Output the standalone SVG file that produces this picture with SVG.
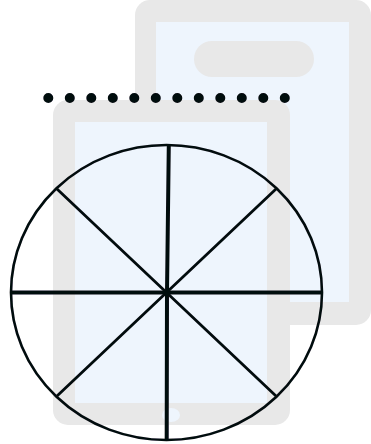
<svg xmlns="http://www.w3.org/2000/svg" width="371" height="444" viewBox="0 0 371 444">
  <style>
    .body{fill:#e8e8e8}
    .screen{fill:#eef5fd}
    .ln{stroke:#06090f;fill:none}
  </style>
  <defs>
    <filter id="soft" x="-5%" y="-5%" width="110%" height="110%"><feGaussianBlur stdDeviation="0.5"/></filter>
  </defs>
  <rect width="371" height="444" fill="#fff"/>
  <g filter="url(#soft)">
    <g id="phone-back">
      <rect class="body" x="135" y="0" width="236" height="325" rx="15"/>
      <rect class="screen" x="156" y="22" width="193" height="280"/>
      <rect class="body" x="194" y="41" width="120" height="36" rx="18"/>
    </g>
    <g id="phone-front">
      <rect class="body" x="53" y="100" width="237" height="325" rx="15"/>
      <rect class="screen" x="75" y="122" width="192" height="281"/>
      <ellipse class="screen" cx="171" cy="415" rx="9" ry="7"/>
    </g>
    <g id="dots">
      <line x1="48.3" y1="98" x2="285" y2="98" stroke="#06090f" stroke-width="10" stroke-linecap="round" stroke-dasharray="0 21.5"/>
    </g>
    <g id="connectors">
      <ellipse class="ln" cx="166.5" cy="292.5" rx="155.5" ry="147.5" stroke-width="2.6"/>
      <path class="ln" stroke-width="4" d="M168.8 145L167 292.5L166.7 439M11 292.5H322"/>
      <path class="ln" stroke-width="2.8" d="M57 189L276 396M276 189L57 396"/>
    </g>
  </g>
</svg>
